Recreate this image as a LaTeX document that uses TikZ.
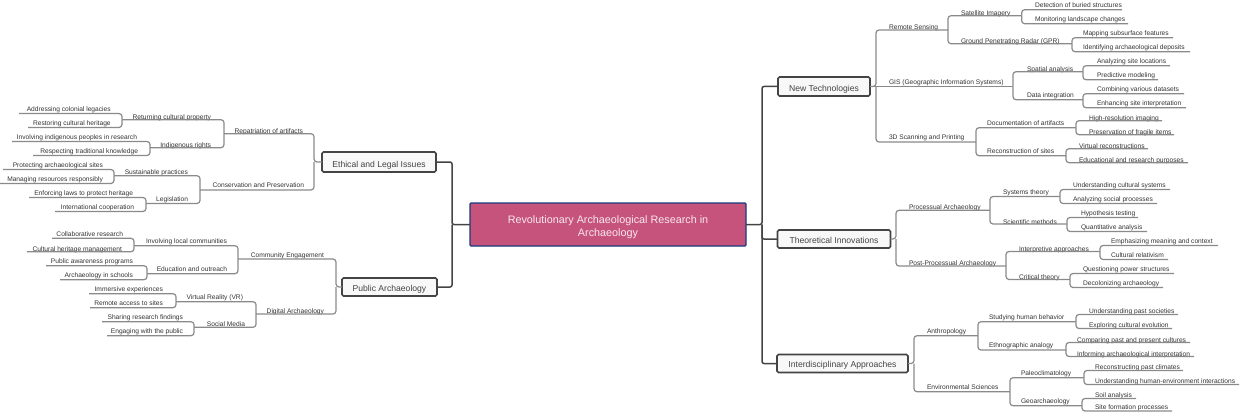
\documentclass[tikz,border=0pt]{standalone}
\usepackage{fontspec}
\setmainfont{Liberation Sans}
\definecolor{txt}{HTML}{333333}
\definecolor{branch}{HTML}{8A8A8A}
\definecolor{dark}{HTML}{444444}
\definecolor{rootfill}{HTML}{C6537B}
\definecolor{rootedge}{HTML}{173A7C}
\definecolor{rootinkt}{HTML}{F8E8EE}
\definecolor{boxfill}{HTML}{F8F8F8}
\tikzset{
  tn/.style={inner xsep=0pt,inner ysep=0pt,outer sep=0pt,text height=5pt,text depth=0pt,font=\fontsize{6.65}{8}\selectfont,text=txt},
  conn/.style={draw=branch,line width=1.2pt,rounded corners=3pt},
  mainconn/.style={draw=dark,line width=1.5pt,rounded corners=2pt},
  topicbox/.style={draw=dark,fill=boxfill,line width=1.6pt,rounded corners=1.5pt,font=\fontsize{8.6}{10}\selectfont,text=dark,inner sep=0pt,outer sep=0pt,text depth=0pt},
  rootbox/.style={draw=rootedge,fill=rootfill,line width=1.4pt,rounded corners=1pt,font=\fontsize{10.8}{13}\selectfont,text=rootinkt,align=center,inner sep=0pt,outer sep=0pt,minimum width=276pt,minimum height=43pt,text height=23pt,text depth=0pt}
}
% name, text x, line y, line end x, raise, text
\newcommand{\RN}[6]{\pgfmathsetmacro\tnw{#4-#2}\node[tn,anchor=south west] (#1) at (#2,#3) {\raisebox{#5pt}[0pt][0pt]{\makebox[\tnw pt][l]{#6}}};}
\newcommand{\LN}[6]{\pgfmathsetmacro\tnw{#2-#4}\node[tn,anchor=south east] (#1) at (#2,#3) {\raisebox{#5pt}[0pt][0pt]{\makebox[\tnw pt][r]{#6}}};}
\begin{document}
\begin{tikzpicture}[x=1pt,y=-1pt]
\useasboundingbox (0,0) rectangle (1240,412);
% boxes
\node[rootbox] (root) at (608,224.5) {Revolutionary Archaeological Research in\\Archaeology};
\node[topicbox,minimum width=92pt,minimum height=19pt,text height=10.5pt] (nt) at (824,86.5) {New Technologies};
\node[topicbox,minimum width=113pt,minimum height=18pt,text height=9pt] (ti) at (834,239) {Theoretical Innovations};
\node[topicbox,minimum width=131pt,minimum height=18pt,text height=8pt] (ia) at (842.5,363.5) {Interdisciplinary Approaches};
\node[topicbox,minimum width=114pt,minimum height=20pt,text height=11pt] (el) at (379,162) {Ethical and Legal Issues};
\node[topicbox,minimum width=95pt,minimum height=18pt,text height=9pt] (pa) at (389.5,287) {Public Archaeology};
\coordinate (jr) at (762,224.5);
\coordinate (jl) at (452,224.5);
\coordinate (jnt) at (876,86.5);
\coordinate (jti) at (896,239);
\coordinate (jia) at (914,363.5);
\coordinate (jel) at (314,162);
\coordinate (jpa) at (336,287);
% New Technologies
\RN{a1}{889}{30}{948}{0.4}{Remote Sensing}
\RN{a2}{961}{15.7}{1021.7}{0.4}{Satellite Imagery}
\RN{a3}{1035}{9.7}{1122}{2.2}{Detection of buried structures}
\RN{a4}{1035}{23.7}{1128}{2.2}{Monitoring landscape changes}
\RN{a5}{961}{43.7}{1072}{0.4}{Ground Penetrating Radar (GPR)}
\RN{a6}{1083}{37.7}{1173}{2.2}{Mapping subsurface features}
\RN{a7}{1083}{51.7}{1190}{2.2}{Identifying archaeological deposits}
\RN{a8}{889}{86.5}{1013}{2.2}{GIS (Geographic Information Systems)}
\RN{a9}{1027}{71.7}{1083}{0.4}{Spatial analysis}
\RN{a10}{1097}{65.7}{1170}{2.2}{Analyzing site locations}
\RN{a11}{1097}{79.7}{1158}{2.2}{Predictive modeling}
\RN{a12}{1027}{99.7}{1083}{2.2}{Data integration}
\RN{a13}{1097}{93.7}{1184}{2.2}{Combining various datasets}
\RN{a14}{1097}{107.7}{1186}{2.2}{Enhancing site interpretation}
\RN{a15}{889}{142}{976}{2.2}{3D Scanning and Printing}
\RN{a16}{987}{127.7}{1076}{2.2}{Documentation of artifacts}
\RN{a17}{1089}{120.7}{1162}{0.4}{High-resolution imaging}
\RN{a18}{1089}{134.7}{1174}{0.4}{Preservation of fragile items}
\RN{a19}{987}{155.7}{1066}{2.2}{Reconstruction of sites}
\RN{a20}{1079}{148.7}{1148}{0.4}{Virtual reconstructions}
\RN{a21}{1079}{162.7}{1188}{0.4}{Educational and research purposes}
% Theoretical Innovations
\RN{b1}{909}{210.3}{990}{0.8}{Processual Archaeology}
\RN{b2}{1003}{196.5}{1060}{1.6}{Systems theory}
\RN{b3}{1073}{189.5}{1170}{2.2}{Understanding cultural systems}
\RN{b4}{1073}{203.5}{1157}{2.2}{Analyzing social processes}
\RN{b5}{1003}{224}{1067}{0}{Scientific methods}
\RN{b6}{1081}{217.5}{1138}{2.2}{Hypothesis testing}
\RN{b7}{1081}{231.5}{1147}{2.2}{Quantitative analysis}
\RN{b8}{909}{266}{1006}{0.4}{Post-Processual Archaeology}
\RN{b9}{1019}{251.5}{1100}{0.4}{Interpretive approaches}
\RN{b10}{1111}{245.5}{1218}{2.2}{Emphasizing meaning and context}
\RN{b11}{1111}{259.5}{1168}{2.2}{Cultural relativism}
\RN{b12}{1019}{279.5}{1070}{0.4}{Critical theory}
\RN{b13}{1083}{273.5}{1174}{2.2}{Questioning power structures}
\RN{b14}{1083}{287.5}{1163}{2.2}{Decolonizing archaeology}
% Interdisciplinary Approaches
\RN{c1}{927}{335.7}{978}{2.2}{Anthropology}
\RN{c2}{989}{321.7}{1076}{2.2}{Studying human behavior}
\RN{c3}{1089}{314.5}{1178}{0.8}{Understanding past societies}
\RN{c4}{1089}{328.5}{1172}{0.8}{Exploring cultural evolution}
\RN{c5}{989}{350}{1066}{2.2}{Ethnographic analogy}
\RN{c6}{1077}{342.5}{1190}{0.4}{Comparing past and present cultures}
\RN{c7}{1077}{356.5}{1194}{0.4}{Informing archaeological interpretation}
\RN{c8}{927}{391.7}{1010}{2.2}{Environmental Sciences}
\RN{c9}{1021}{377.7}{1084}{2.2}{Paleoclimatology}
\RN{c10}{1095}{370.5}{1183}{0.8}{Reconstructing past climates}
\RN{c11}{1095}{384.5}{1239}{0.8}{Understanding human-environment interactions}
\RN{c12}{1021}{405.7}{1082}{2.2}{Geoarchaeology}
\RN{c13}{1095}{398.5}{1136}{0.8}{Soil analysis}
\RN{c14}{1095}{411}{1172}{1.4}{Site formation processes}
% Ethical and Legal Issues
\LN{d1}{303}{133.7}{224}{0.4}{Repatriation of artifacts}
\LN{d2}{211}{119.7}{122}{0.4}{Returning cultural property}
\LN{d3}{110.7}{113.5}{19}{2.2}{Addressing colonial legacies}
\LN{d4}{110.7}{127.5}{28}{2.2}{Restoring cultural heritage}
\LN{d5}{211}{147.7}{150}{0.4}{Indigenous rights}
\LN{d6}{137}{141.5}{12}{2.2}{Involving indigenous peoples in research}
\LN{d7}{138}{155.5}{33}{2.2}{Respecting traditional knowledge}
\LN{d8}{304}{190}{200}{2.2}{Conservation and Preservation}
\LN{d9}{188}{175.7}{114}{1.6}{Sustainable practices}
\LN{d10}{103}{169.5}{3}{2.2}{Protecting archaeological sites}
\LN{d11}{103}{183.5}{0}{2.2}{Managing resources responsibly}
\LN{d12}{188}{203.5}{146}{2.2}{Legislation}
\LN{d13}{133}{197.5}{29}{2.2}{Enforcing laws to protect heritage}
\LN{d14}{134}{211.5}{55}{2.2}{International cooperation}
% Public Archaeology
\LN{e1}{324}{259}{238}{1.6}{Community Engagement}
\LN{e2}{227}{245.7}{134}{2.2}{Involving local communities}
\LN{e3}{123}{238.3}{52}{1.6}{Collaborative research}
\LN{e4}{122}{251.7}{27}{0.4}{Cultural heritage management}
\LN{e5}{227}{273.7}{147}{2.2}{Education and outreach}
\LN{e6}{133}{265.7}{46}{2.2}{Public awareness programs}
\LN{e7}{133}{279.7}{60}{2.2}{Archaeology in schools}
\LN{e8}{324}{314}{256}{0.4}{Digital Archaeology}
\LN{e9}{243}{301.7}{176}{2.2}{Virtual Reality (VR)}
\LN{e10}{163}{293.7}{89}{2.2}{Immersive experiences}
\LN{e11}{163}{307.7}{90}{2.2}{Remote access to sites}
\LN{e12}{245}{327.3}{194}{0.4}{Social Media}
\LN{e13}{183}{321.7}{102}{2.2}{Sharing research findings}
\LN{e14}{183}{335.7}{107}{2.2}{Engaging with the public}
% main connectors
\draw[mainconn] (root.east) -- (jr) |- (nt.west);
\draw[mainconn] (jr) |- (ti.west);
\draw[mainconn] (jr) |- (ia.west);
\draw[mainconn] (root.west) -- (jl) |- (el.east);
\draw[mainconn] (jl) |- (pa.east);
% first level connectors
\draw[conn] (nt.east) -- (jnt) |- (a1.south east);
\draw[conn] (nt.east) -- (a8.south east);
\draw[conn] (jnt) |- (a15.south east);
\draw[conn] (ti.east) -- (jti) |- (b1.south east);
\draw[conn] (jti) |- (b8.south east);
\draw[conn] (ia.east) -- (jia) |- (c1.south east);
\draw[conn] (jia) |- (c8.south east);
\draw[conn] (el.west) -- (jel) |- (d1.south west);
\draw[conn] (jel) |- (d8.south west);
\draw[conn] (pa.west) -- (jpa) |- (e1.south west);
\draw[conn] (jpa) |- (e8.south west);
% right branches
\foreach \p/\c in {a1/a2,a1/a5,a2/a3,a2/a4,a5/a6,a5/a7,a8/a9,a8/a12,a9/a10,a9/a11,a12/a13,a12/a14,a15/a16,a15/a19,a16/a17,a16/a18,a19/a20,a19/a21,b1/b2,b1/b5,b2/b3,b2/b4,b5/b6,b5/b7,b8/b9,b8/b12,b9/b10,b9/b11,b12/b13,b12/b14,c1/c2,c1/c5,c2/c3,c2/c4,c5/c6,c5/c7,c8/c9,c8/c12,c9/c10,c9/c11,c12/c13,c12/c14}
  \draw[conn] (\p.south east) |- (\c.south east);
% left branches
\foreach \p/\c in {d1/d2,d1/d5,d2/d3,d2/d4,d5/d6,d5/d7,d8/d9,d8/d12,d9/d10,d9/d11,d12/d13,d12/d14,e1/e2,e1/e5,e2/e3,e2/e4,e5/e6,e5/e7,e8/e9,e8/e12,e9/e10,e9/e11,e12/e13,e12/e14}
  \draw[conn] (\p.south west) |- (\c.south west);
\end{tikzpicture}
\end{document}
